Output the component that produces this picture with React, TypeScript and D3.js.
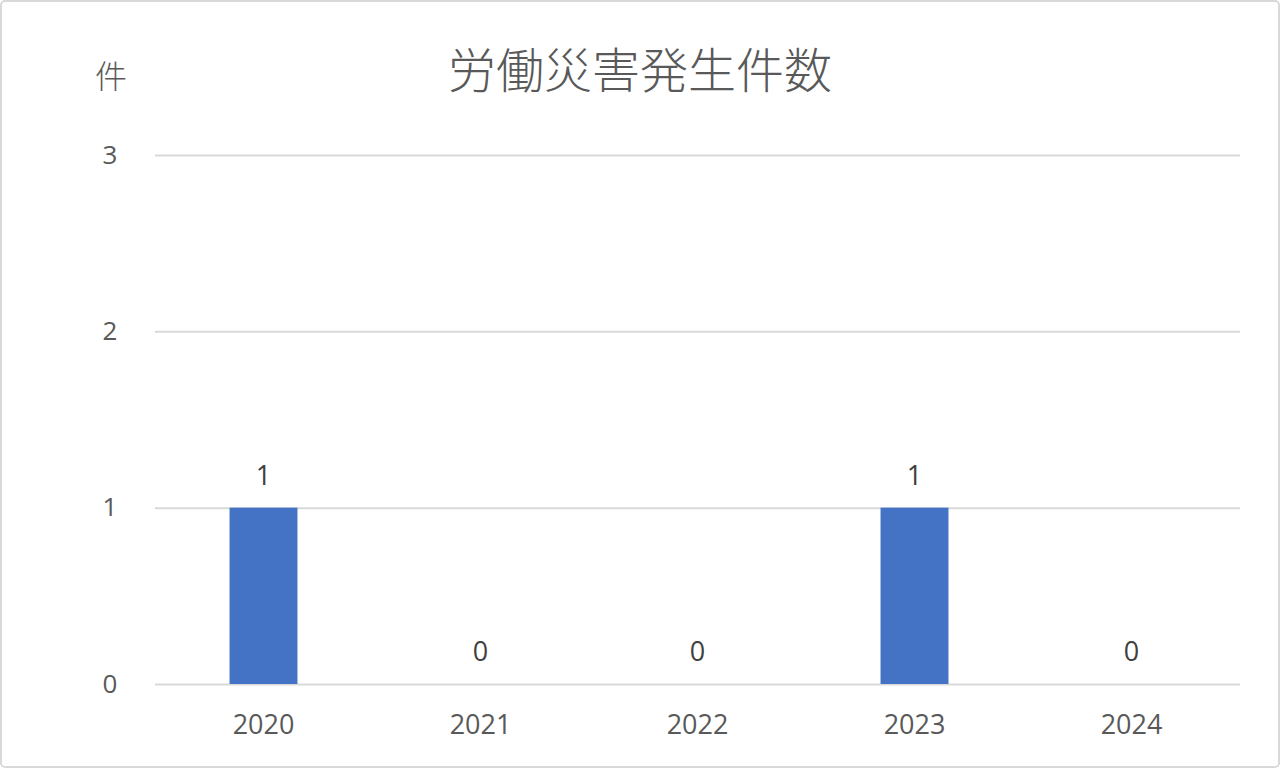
import { useEffect, useRef } from "react"
import * as d3 from "d3"

const years = ["2020", "2021", "2022", "2023", "2024"]
const counts = [1, 0, 0, 1, 0]
const yTicks = [0, 1, 2, 3]
const title = "労働災害発生件数"
const unit = "件"

const W = 1280, H = 768
const TXT = "#595959"
const FONT = "'Open Sans', 'Noto Sans CJK JP', sans-serif"

export default function App() {
  const ref = useRef<SVGSVGElement>(null)
  useEffect(() => {
    if (!ref.current) return
    const m = { top: 155, right: 40, bottom: 84, left: 155 }
    const iw = W - m.left - m.right, ih = H - m.top - m.bottom
    const svg = d3.select(ref.current)
    svg.selectAll("*").remove()

    svg.append("rect").attr("x", 1).attr("y", 1).attr("width", W - 2).attr("height", H - 2)
      .attr("rx", 4).attr("fill", "#fff").attr("stroke", "#d9d9d9").attr("stroke-width", 2)

    svg.append("text").attr("x", 640).attr("y", 88).attr("text-anchor", "middle")
      .style("font-family", "'Noto Sans CJK JP', sans-serif").style("font-size", "48px")
      .style("font-weight", 300).style("fill", TXT)
      .text(title)
    svg.append("text").attr("x", 111).attr("y", 88).attr("text-anchor", "middle")
      .style("font-family", "'Noto Sans CJK JP', sans-serif").style("font-size", "32px")
      .style("font-weight", 300).style("fill", TXT)
      .text(unit)

    const g = svg.append("g").attr("transform", `translate(${m.left},${m.top})`)
    const x = d3.scaleBand().domain(years).range([0, iw]).paddingInner(0.687).paddingOuter(0.3435)
    const y = d3.scaleLinear().domain([0, 3]).range([ih, 0])

    g.append("g").call(d3.axisLeft(y).tickValues(yTicks).tickSize(-iw).tickPadding(38).tickFormat(d3.format("d")))
      .call(a => {
        a.select(".domain").remove()
        a.selectAll("line").style("stroke", "#d9d9d9").style("stroke-width", 2)
        a.selectAll("text").style("fill", TXT).style("font-size", "26px").style("font-family", FONT)
          .attr("text-anchor", "middle").attr("x", -45)
      })

    g.append("g").attr("transform", `translate(0,${ih})`).call(d3.axisBottom(x).tickSize(0).tickPadding(31))
      .call(a => {
        a.select(".domain").remove()
        a.selectAll("text").style("fill", TXT).style("font-size", "27px").style("font-family", FONT)
      })

    g.selectAll("rect.bar").data(counts).join("rect").attr("class", "bar")
      .attr("x", (_, i) => x(years[i])!).attr("width", x.bandwidth())
      .attr("y", d => y(d)).attr("height", d => ih - y(d)).attr("fill", "#4472c4")

    g.selectAll("text.lbl").data(counts).join("text").attr("class", "lbl")
      .attr("x", (_, i) => x(years[i])! + x.bandwidth() / 2).attr("y", d => y(d) - 23)
      .attr("text-anchor", "middle").style("fill", "#404040").style("font-size", "27px").style("font-family", FONT)
      .text(d => String(d))
  }, [])
  return <svg ref={ref} width={W} height={H} style={{ display: "block", position: "absolute", left: 0, top: 0 }} />
}
